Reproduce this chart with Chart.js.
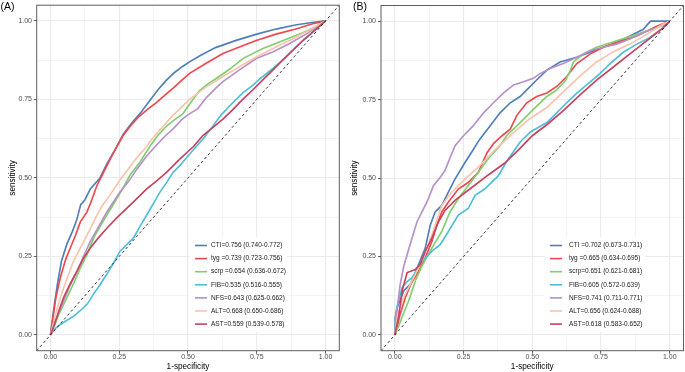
<!DOCTYPE html>
<html><head><meta charset="utf-8">
<script src="https://cdn.jsdelivr.net/npm/chart.js@4"></script>
<style>
html,body{margin:0;padding:0;background:#fff;}
#wrap{position:relative;width:685px;height:372px;overflow:hidden;background:#fff;}
canvas{position:absolute;top:0;}
</style></head><body>
<div id="wrap">
<canvas id="cA" width="340" height="372" style="left:0px"></canvas>
<canvas id="cB" width="345" height="372" style="left:340px"></canvas>
</div>
<script>
// ---------- data ----------
const seriesNames = ['CTI','tyg','scrp','FIB','NFS','ALT','AST'];
const seriesColors = ['#4f7fb8','#f0474e','#80cf6e','#4fbfd6','#b690c9','#f9c3ac','#c6435f'];
const legendA = ['CTI=0.756 (0.740-0.772)','tyg =0.739 (0.723-0.756)','scrp =0.654 (0.636-0.672)','FIB=0.535 (0.516-0.555)','NFS=0.643 (0.625-0.662)','ALT=0.668 (0.650-0.686)','AST=0.559 (0.539-0.578)'];
const legendB = ['CTI =0.702 (0.673-0.731)','tyg =0.665 (0.634-0.695)','scrp=0.651 (0.621-0.681)','FIB=0.605 (0.572-0.639)','NFS=0.741 (0.711-0.771)','ALT=0.656 (0.624-0.688)','AST=0.618 (0.583-0.652)'];
const majorTicks = [0, 0.25, 0.5, 0.75, 1];
const majorTickLabels = ['0.00','0.25','0.50','0.75','1.00'];
const minorTicks = [0.125, 0.375, 0.625, 0.875];
const diagX = [-0.05, 1.05];
const diagY = [-0.05, 1.05];

// Panel A
const A_CTI_x = [0,0.01,0.025,0.04,0.06,0.08,0.095,0.11,0.125,0.145,0.18,0.205,0.235,0.265,0.3,0.33,0.36,0.39,0.42,0.45,0.48,0.51,0.545,0.6,0.675,0.75,0.82,0.89,0.95,1];
const A_CTI_y = [0,0.07,0.16,0.235,0.29,0.33,0.365,0.415,0.43,0.465,0.5,0.545,0.59,0.64,0.68,0.71,0.745,0.78,0.81,0.835,0.855,0.872,0.89,0.915,0.938,0.958,0.974,0.987,0.995,1];
const A_tyg_x = [0,0.01,0.02,0.036,0.055,0.072,0.09,0.109,0.133,0.15,0.169,0.193,0.229,0.264,0.295,0.325,0.355,0.385,0.415,0.446,0.476,0.506,0.566,0.627,0.687,0.748,0.82,0.892,0.95,1];
const A_tyg_y = [0,0.06,0.12,0.183,0.24,0.277,0.315,0.361,0.392,0.43,0.476,0.518,0.58,0.635,0.67,0.698,0.72,0.74,0.763,0.786,0.81,0.833,0.865,0.896,0.917,0.9375,0.958,0.974,0.99,1];
const A_scrp_x = [0,0.015,0.03,0.06,0.085,0.109,0.135,0.157,0.18,0.205,0.235,0.265,0.29,0.325,0.361,0.39,0.421,0.45,0.482,0.51,0.542,0.57,0.6,0.651,0.699,0.772,0.844,0.917,0.96,1];
const A_scrp_y = [0,0.03,0.065,0.12,0.165,0.214,0.26,0.309,0.345,0.382,0.425,0.47,0.51,0.55,0.6,0.635,0.664,0.685,0.705,0.74,0.778,0.798,0.815,0.846,0.88,0.912,0.937,0.962,0.98,1];
const A_FIB_x = [0,0.012,0.03,0.06,0.085,0.109,0.135,0.157,0.18,0.205,0.23,0.253,0.28,0.302,0.325,0.35,0.375,0.398,0.422,0.446,0.47,0.5,0.53,0.56,0.59,0.62,0.651,0.699,0.735,0.772,0.81,0.844,0.892,0.94,1];
const A_FIB_y = [0,0.016,0.03,0.047,0.06,0.078,0.1,0.131,0.16,0.194,0.23,0.267,0.29,0.309,0.345,0.382,0.42,0.455,0.485,0.518,0.539,0.57,0.6,0.63,0.665,0.7,0.729,0.771,0.795,0.823,0.85,0.875,0.917,0.953,1];
const A_NFS_x = [0,0.015,0.03,0.048,0.07,0.097,0.12,0.145,0.175,0.205,0.23,0.253,0.285,0.314,0.35,0.385,0.415,0.446,0.476,0.506,0.535,0.566,0.6,0.627,0.687,0.748,0.808,0.868,0.929,1];
const A_NFS_y = [0,0.04,0.07,0.11,0.155,0.204,0.25,0.298,0.345,0.392,0.425,0.455,0.49,0.528,0.57,0.604,0.632,0.656,0.685,0.705,0.72,0.755,0.785,0.807,0.844,0.88,0.901,0.927,0.958,1];
const A_ALT_x = [0,0.02,0.036,0.06,0.084,0.11,0.14,0.163,0.187,0.22,0.25,0.28,0.31,0.34,0.37,0.4,0.446,0.506,0.566,0.627,0.687,0.748,0.82,0.892,0.95,1];
const A_ALT_y = [0,0.07,0.12,0.18,0.235,0.28,0.33,0.371,0.41,0.45,0.49,0.525,0.56,0.59,0.625,0.655,0.7,0.75,0.79,0.823,0.854,0.885,0.917,0.948,0.975,1];
const A_AST_x = [0,0.015,0.03,0.048,0.07,0.097,0.12,0.145,0.175,0.205,0.24,0.277,0.315,0.35,0.385,0.422,0.47,0.52,0.554,0.59,0.627,0.66,0.699,0.735,0.772,0.81,0.844,0.88,0.917,0.96,1];
const A_AST_y = [0,0.035,0.075,0.12,0.16,0.204,0.245,0.277,0.31,0.34,0.372,0.403,0.435,0.465,0.49,0.518,0.56,0.6,0.635,0.66,0.6875,0.715,0.75,0.78,0.8125,0.845,0.875,0.905,0.9375,0.97,1];

// Panel B
const B_CTI_x = [0,0.002,0.008,0.014,0.033,0.057,0.087,0.111,0.129,0.147,0.171,0.195,0.219,0.255,0.28,0.31,0.347,0.383,0.42,0.456,0.48,0.516,0.553,0.601,0.662,0.71,0.758,0.807,0.855,0.904,0.93,1];
const B_CTI_y = [0,0.058,0.085,0.099,0.141,0.162,0.225,0.277,0.35,0.392,0.413,0.455,0.497,0.549,0.583,0.625,0.667,0.708,0.74,0.76,0.781,0.8125,0.844,0.87,0.885,0.901,0.917,0.932,0.953,0.974,1,1];
const B_tyg_x = [0,0.01,0.02,0.039,0.06,0.087,0.111,0.135,0.153,0.171,0.195,0.231,0.267,0.304,0.335,0.36,0.39,0.42,0.444,0.48,0.516,0.553,0.589,0.625,0.662,0.71,0.758,0.807,0.88,0.952,1];
const B_tyg_y = [0,0.03,0.068,0.12,0.165,0.204,0.246,0.298,0.35,0.392,0.424,0.465,0.486,0.518,0.58,0.611,0.635,0.656,0.7,0.74,0.76,0.771,0.792,0.823,0.865,0.895,0.917,0.932,0.953,0.984,1];
const B_scrp_x = [0,0.015,0.027,0.051,0.075,0.099,0.135,0.171,0.201,0.231,0.267,0.3,0.347,0.38,0.407,0.456,0.504,0.553,0.589,0.62,0.637,0.65,0.686,0.734,0.807,0.88,0.952,1];
const B_scrp_y = [0,0.03,0.058,0.11,0.173,0.22,0.277,0.33,0.392,0.434,0.476,0.515,0.57,0.6,0.635,0.677,0.719,0.76,0.781,0.81,0.84,0.87,0.896,0.917,0.9375,0.958,0.979,1];
const B_FIB_x = [0,0.004,0.008,0.02,0.027,0.045,0.063,0.099,0.135,0.165,0.195,0.231,0.267,0.292,0.328,0.376,0.412,0.456,0.492,0.553,0.589,0.625,0.662,0.698,0.746,0.783,0.831,0.88,0.928,0.976,1];
const B_FIB_y = [0,0.06,0.089,0.13,0.152,0.17,0.183,0.235,0.267,0.288,0.33,0.382,0.403,0.445,0.466,0.507,0.56,0.615,0.646,0.677,0.708,0.74,0.771,0.797,0.833,0.865,0.901,0.927,0.948,0.979,1];
const B_NFS_x = [0,0.004,0.008,0.02,0.033,0.045,0.063,0.081,0.099,0.117,0.141,0.165,0.183,0.2,0.22,0.25,0.286,0.323,0.359,0.395,0.432,0.468,0.504,0.528,0.565,0.613,0.662,0.71,0.758,0.807,0.855,0.904,0.952,0.975,1];
const B_NFS_y = [0,0.05,0.078,0.162,0.22,0.256,0.309,0.361,0.392,0.424,0.476,0.502,0.525,0.5625,0.604,0.635,0.667,0.708,0.74,0.771,0.797,0.807,0.818,0.833,0.849,0.865,0.885,0.906,0.917,0.927,0.943,0.964,0.979,0.986,1];
const B_ALT_x = [0,0.01,0.027,0.063,0.099,0.135,0.171,0.207,0.255,0.304,0.37,0.432,0.492,0.553,0.613,0.674,0.734,0.795,0.855,0.916,0.976,1];
const B_ALT_y = [0,0.06,0.11,0.173,0.235,0.319,0.413,0.455,0.497,0.535,0.595,0.645,0.69,0.725,0.775,0.826,0.87,0.903,0.927,0.958,0.99,1];
const B_AST_x = [0,0.014,0.027,0.045,0.075,0.093,0.111,0.135,0.159,0.183,0.219,0.28,0.34,0.4,0.45,0.5,0.553,0.613,0.674,0.734,0.795,0.855,0.916,0.976,1];
const B_AST_y = [0,0.058,0.141,0.199,0.209,0.225,0.267,0.309,0.361,0.397,0.429,0.47,0.51,0.548,0.59,0.635,0.67,0.715,0.765,0.8125,0.854,0.896,0.9375,0.979,1];

const curvesA = [[A_CTI_x,A_CTI_y],[A_tyg_x,A_tyg_y],[A_scrp_x,A_scrp_y],[A_FIB_x,A_FIB_y],[A_NFS_x,A_NFS_y],[A_ALT_x,A_ALT_y],[A_AST_x,A_AST_y]];
const curvesB = [[B_CTI_x,B_CTI_y],[B_tyg_x,B_tyg_y],[B_scrp_x,B_scrp_y],[B_FIB_x,B_FIB_y],[B_NFS_x,B_NFS_y],[B_ALT_x,B_ALT_y],[B_AST_x,B_AST_y]];

// ---------- rendering ----------
const FONT = '"Liberation Sans", Arial, sans-serif';
const allTicks = majorTicks.concat(minorTicks).sort((a,b)=>a-b);
const isMajor = v => majorTicks.some(m => Math.abs(m - v) < 1e-9);

function makeChart(canvasId, curves, legendTexts, cfg) {
  const datasets = curves.map((c, i) => ({
    label: seriesNames[i],
    data: c[0].map((xv, j) => ({x: xv, y: c[1][j]})),
    borderColor: seriesColors[i],
    backgroundColor: seriesColors[i],
    borderWidth: 1.65,
    pointRadius: 0,
    tension: 0,
    fill: false,
    order: curves.length - i
  }));
  datasets.push({
    label: 'ref',
    data: diagX.map((xv, j) => ({x: xv, y: diagY[j]})),
    borderColor: '#1e1e1e',
    borderWidth: 0.9,
    borderDash: [2.6, 2.6],
    pointRadius: 0,
    fill: false,
    order: 0
  });

  const decor = {
    id: 'decor_' + canvasId,
    afterDatasetsDraw(chart) {
      const {ctx, chartArea: ca} = chart;
      ctx.save();
      ctx.strokeStyle = '#5e5e5e';
      ctx.lineWidth = 1;
      ctx.strokeRect(ca.left, ca.top, ca.right - ca.left, ca.bottom - ca.top);
      // legend
      ctx.fillStyle = '#ffffff';
      ctx.fillRect(cfg.legBox[0], cfg.legBox[1], cfg.legBox[2], cfg.legBox[3]);
      ctx.font = '6.5px ' + FONT;
      ctx.textBaseline = 'middle';
      ctx.textAlign = 'left';
      legendTexts.forEach((t, i) => {
        const y = cfg.legY0 + i * cfg.legDy;
        ctx.strokeStyle = seriesColors[i];
        ctx.lineWidth = 1.6;
        ctx.beginPath();
        ctx.moveTo(cfg.keyX0, y);
        ctx.lineTo(cfg.keyX1, y);
        ctx.stroke();
        ctx.fillStyle = '#1a1a1a';
        ctx.fillText(t, cfg.textX, y);
      });
      // tag
      ctx.font = '10.5px ' + FONT;
      ctx.fillStyle = '#000';
      ctx.textBaseline = 'middle';
      ctx.fillText(cfg.tag, cfg.tagX, cfg.tagY);
      ctx.restore();
    }
  };

  const axisCommon = (titleText, titlePad) => ({
    type: 'linear',
    min: -0.05,
    max: 1.05,
    afterBuildTicks: s => { s.ticks = allTicks.map(v => ({value: v})); },
    ticks: {
      autoSkip: false,
      font: {size: 7, family: FONT, lineHeight: 1},
      color: '#4d4d4d',
      callback: v => { const k = majorTicks.findIndex(m => Math.abs(m - v) < 1e-9); return k >= 0 ? majorTickLabels[k] : ''; }
    },
    grid: {
      color: '#ebebeb',
      lineWidth: c => (c.tick && isMajor(c.tick.value)) ? 1.1 : 0.55,
      tickColor: c => (c.tick && isMajor(c.tick.value)) ? '#5e5e5e' : 'rgba(0,0,0,0)',
      tickLength: 3,
      tickWidth: 1,
      drawTicks: true
    },
    border: {display: false},
    title: {display: true, text: titleText, font: {size: 8.2, family: FONT}, color: '#000', padding: titlePad}
  });

  const xScale = axisCommon('1-specificity', {top: 0, bottom: 0.6});
  xScale.position = 'bottom';
  xScale.ticks.padding = 0;
  xScale.afterFit = s => { s.height = 21.3; };
  const yScale = axisCommon('sensitivity', {top: cfg.yTitlePad, bottom: 0});
  yScale.position = 'left';
  yScale.ticks.padding = cfg.yTickPad;
  yScale.afterFit = s => { s.width = cfg.yAxisW; };

  return new Chart(document.getElementById(canvasId), {
    type: 'line',
    data: {datasets},
    options: {
      responsive: false,
      animation: false,
      devicePixelRatio: 1,
      parsing: false,
      layout: {padding: {top: 1, right: cfg.rightPad, left: 0, bottom: 0}},
      plugins: {legend: {display: false}, tooltip: {enabled: false}, title: {display: false}},
      scales: {x: xScale, y: yScale}
    },
    plugins: [decor]
  });
}

makeChart('cA', curvesA, legendA, {
  yAxisW: 36.7, rightPad: 0.7, yTitlePad: 8, yTickPad: 1.7,
  legBox: [190, 237, 97, 95], legY0: 245.5, legDy: 13.1, keyX0: 195, keyX1: 207, textX: 211,
  tag: '(A)', tagX: 0.5, tagY: 7
});
makeChart('cB', curvesB, legendB, {
  yAxisW: 41, rightPad: 1.5, yTitlePad: 10, yTickPad: 2,
  legBox: [205, 237, 100, 95], legY0: 245.5, legDy: 13.1, keyX0: 210, keyX1: 222, textX: 229,
  tag: '(B)', tagX: 13, tagY: 7
});
</script>
</body></html>
